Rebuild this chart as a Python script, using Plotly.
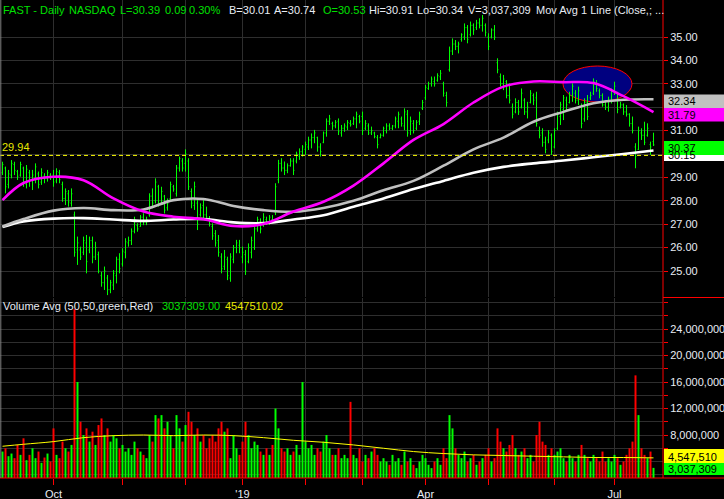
import pandas as pd
import plotly.graph_objects as go

# ---------------- data ----------------
holidays = ['2018-11-22', '2018-12-05', '2018-12-25', '2019-01-01', '2019-01-21',
            '2019-02-18', '2019-04-19', '2019-05-27', '2019-07-04']
dates = [d.strftime('%Y-%m-%d') for d in pd.bdate_range('2018-09-06', '2019-07-19')
         if d.strftime('%Y-%m-%d') not in holidays]

high = [29.67,29.46,29.32,29.74,29.67,29.32,29.67,29.46,29.53,29.32,29.32,29.60,29.25,29.39,29.18,29.32,29.18,
        29.32,29.39,29.32,28.82,28.53,28.46,28.53,27.54,
        26.47,26.04,26.47,26.54,26.47,26.47,26.25,25.83,24.97,25.19,24.83,24.62,25.04,25.61,25.76,25.97,26.40,26.47,26.82,27.32,27.04,27.39,27.47,27.32,28.32,28.53,28.96,28.68,28.60,28.25,28.10,
        28.82,28.68,29.53,29.89,29.82,30.20,29.82,28.53,28.82,28.03,27.89,28.10,27.75,27.35,27.04,26.75,26.54,25.76,25.90,25.61,25.76,26.11,26.33,26.33,
        26.04,25.90,26.18,26.47,26.89,27.32,27.25,27.47,27.32,27.39,27.39,28.75,29.75,29.82,29.68,29.60,29.82,29.82,30.10,30.24,30.38,30.53,30.74,30.88,31.03,30.74,30.46,30.96,31.52,31.67,31.38,
        31.45,31.52,31.24,31.31,31.45,31.45,31.60,31.81,31.67,31.81,31.45,31.31,31.17,30.95,30.81,30.88,31.17,31.31,31.31,31.24,31.60,31.81,31.60,31.95,31.88,31.60,31.45,31.45,31.81,32.31,32.95,33.09,33.31,33.31,33.45,33.59,33.09,32.66,
        34.59,34.94,34.87,34.80,35.16,35.58,35.51,35.66,35.58,35.73,35.80,35.94,35.58,35.16,35.37,35.51,34.09,
        33.44,33.38,33.16,33.02,32.16,32.38,32.31,32.80,32.38,32.23,32.73,32.59,32.66,31.17,31.10,30.74,31.02,30.88,31.10,31.81,32.23,32.52,32.45,32.66,33.02,32.73,32.88,32.16,32.38,32.52,32.66,33.23,33.16,32.80,32.59,32.31,32.45,32.80,33.09,32.66,32.23,32.16,32.09,31.74,31.60,30.46,31.17,31.10,31.38,31.31,30.53,30.91]

low = [29.10,28.32,28.53,28.96,29.10,28.89,29.03,28.60,28.53,28.60,28.46,28.75,28.53,28.68,28.75,28.82,28.89,
       28.60,28.75,28.75,27.96,27.82,27.75,27.75,25.61,
       25.26,25.47,25.68,24.90,25.76,25.33,25.47,24.90,24.33,24.19,23.97,24.05,24.19,24.47,24.90,25.19,25.54,26.04,26.11,26.61,26.68,26.89,26.96,26.96,27.32,27.68,27.89,27.75,27.82,27.46,27.58,
       28.03,28.39,28.18,29.25,29.25,29.25,28.46,27.68,27.61,26.75,27.32,27.25,27.18,26.90,26.33,26.04,25.61,24.90,25.04,24.61,24.54,25.33,25.76,25.76,
       25.33,24.83,25.33,25.54,25.90,26.68,26.61,26.89,26.97,26.97,27.04,27.39,28.75,29.25,29.10,29.18,29.46,29.10,29.60,29.75,29.89,29.96,30.17,30.24,30.46,30.10,29.89,30.46,30.74,31.24,31.03,
       31.10,30.81,30.74,30.95,31.02,31.17,31.24,31.10,31.31,30.81,31.02,30.81,30.81,30.67,30.24,30.67,30.74,30.88,31.02,31.02,31.10,31.10,31.17,31.02,30.74,30.81,30.88,31.02,31.24,31.88,32.31,32.74,32.88,32.88,33.09,33.16,32.45,32.02,
       33.52,34.23,34.44,34.30,34.80,34.87,34.73,35.02,35.09,35.30,35.37,35.23,35.02,34.44,34.94,34.87,33.45,
       32.88,32.73,32.38,32.16,31.52,31.74,31.67,31.95,31.67,31.52,32.16,32.09,31.17,30.67,30.31,30.03,30.46,29.96,30.24,31.02,31.24,31.45,31.88,32.16,32.23,32.16,32.09,31.10,31.38,31.45,32.31,32.52,32.66,32.38,32.02,31.88,31.81,32.16,32.52,31.74,31.95,31.67,31.60,31.17,30.88,29.39,30.17,30.60,30.38,30.74,29.96,30.34]

opens = [29.20,29.40,28.70,29.10,29.55,29.25,29.10,29.40,28.70,29.20,28.90,29.00,29.15,28.80,29.05,28.95,29.10,
         29.10,28.85,29.20,28.70,28.10,28.30,27.90,27.40,
         25.90,25.90,25.80,26.20,25.90,26.30,25.60,25.70,24.80,24.50,24.70,24.20,24.40,24.80,25.50,25.30,25.80,26.20,26.30,26.70,26.95,26.90,27.30,27.10,27.40,28.20,28.00,28.60,27.90,28.20,27.70,
         28.10,28.60,28.30,29.40,29.70,29.60,29.70,28.40,27.80,27.90,27.40,27.80,27.40,27.25,26.90,26.60,26.30,25.60,25.20,25.50,24.70,25.50,26.00,26.10,
         25.60,25.70,25.40,25.80,26.00,26.80,27.10,26.95,27.20,27.05,27.20,27.50,28.90,29.60,29.40,29.30,29.50,29.70,29.70,29.90,30.10,30.20,30.30,30.60,30.70,30.70,30.30,30.50,30.90,31.40,31.30,
         31.20,31.40,30.90,31.10,31.15,31.30,31.30,31.50,31.60,31.60,31.10,31.20,30.90,30.90,30.70,30.70,30.80,31.00,31.20,31.10,31.20,31.40,31.50,31.20,31.70,31.00,31.30,31.10,31.40,31.95,32.40,32.80,33.00,33.10,33.15,33.30,33.00,32.50,
         33.60,34.40,34.70,34.60,34.90,35.00,35.40,35.10,35.50,35.40,35.60,35.50,35.50,35.00,35.00,35.30,33.90,
         33.30,33.00,33.10,32.50,32.00,31.80,32.20,32.00,32.30,31.80,32.20,32.50,32.40,31.00,30.90,30.50,30.60,30.80,30.30,31.10,31.60,31.90,32.30,32.20,32.50,32.60,32.30,32.00,31.50,32.20,32.40,32.60,33.00,32.70,32.50,32.10,32.00,32.30,32.70,32.60,32.00,32.10,31.80,31.70,31.30,30.30,30.20,30.90,30.80,30.80,30.40,30.53]

closes = [29.55,28.60,29.15,29.60,29.30,29.05,29.55,28.80,29.35,28.85,29.10,29.45,28.70,29.20,28.95,29.20,29.00,
          28.80,29.25,28.90,28.10,28.40,27.95,28.30,25.80,
          26.20,25.60,26.30,25.40,26.30,25.60,26.00,25.00,24.50,25.00,24.20,24.50,24.90,25.50,25.10,25.85,26.25,26.30,26.70,27.20,26.80,27.30,27.10,27.20,28.20,27.90,28.80,27.90,28.40,27.60,27.90,
          28.70,28.50,29.40,29.80,29.40,30.00,28.60,27.90,28.60,27.00,27.70,27.40,27.30,27.00,26.50,26.20,25.80,25.10,25.60,24.80,25.60,26.00,26.20,26.00,
          25.80,25.00,26.00,26.30,26.80,27.20,26.80,27.30,27.10,27.30,27.15,28.60,29.60,29.40,29.30,29.50,29.70,29.30,30.00,30.10,30.30,30.40,30.60,30.70,30.90,30.30,30.10,30.90,31.40,31.50,31.20,
          31.35,30.95,31.10,31.20,31.35,31.25,31.50,31.70,31.40,31.00,31.30,30.90,31.00,30.75,30.40,30.80,31.10,31.20,31.10,31.20,31.50,31.70,31.30,31.80,30.90,31.40,31.00,31.35,31.70,32.20,32.85,33.00,33.20,33.00,33.35,33.45,32.60,32.20,
          34.40,34.70,34.60,34.70,35.10,35.40,34.90,35.50,35.30,35.60,35.50,35.80,35.20,34.60,35.30,35.00,33.60,
          33.00,33.20,32.50,32.30,31.70,32.20,31.80,32.60,31.80,32.00,32.60,32.30,31.30,30.80,30.50,30.20,30.90,30.10,31.00,31.70,32.10,32.40,32.10,32.50,32.90,32.30,32.70,31.30,32.20,31.60,32.50,33.10,32.80,32.50,32.10,32.00,32.30,32.70,32.90,31.90,32.10,31.80,31.70,31.30,31.00,29.90,31.00,30.80,30.50,31.10,30.30,30.39]

volume_m = [5.5,6.0,4.8,5.2,4.5,6.5,5.0,7.5,4.2,5.0,6.0,4.5,5.5,3.8,4.6,5.2,4.0,
            9.0,5.0,4.5,7.0,6.0,5.5,6.5,27.0,
            16.0,10.0,8.0,9.0,7.0,8.5,6.5,9.5,10.5,8.0,9.0,7.0,8.0,7.5,6.0,6.5,5.5,6.0,5.0,7.0,6.0,5.5,5.0,4.5,8.0,7.0,11.0,10.5,11.0,9.0,10.0,
            8.0,6.0,11.0,9.0,7.0,9.5,11.5,10.0,8.0,9.0,7.0,8.0,6.0,7.5,8.0,7.0,9.0,10.0,8.5,9.0,4.5,8.0,6.0,5.0,
            7.0,10.0,8.0,6.0,7.0,6.5,5.5,5.0,6.0,5.0,6.5,12.0,9.0,6.0,5.5,6.0,5.0,5.5,6.5,5.0,16.0,7.0,6.0,6.5,5.0,6.0,5.5,7.0,8.0,6.0,5.0,
            5.0,6.0,4.5,5.0,4.5,13.0,5.0,4.5,6.0,4.0,5.0,4.5,5.5,6.0,5.0,4.0,4.5,4.0,3.5,5.0,4.0,4.5,3.5,5.5,4.0,4.5,3.5,3.0,4.0,5.0,4.5,3.5,3.0,4.0,4.5,3.5,6.0,4.5,
            11.0,9.0,6.0,5.0,4.5,5.5,4.0,4.5,5.0,3.5,4.0,4.5,5.0,6.0,4.0,4.5,9.0,
            7.0,6.0,5.5,6.5,8.0,6.0,5.0,5.5,6.0,4.5,5.0,4.0,8.0,10.0,7.0,6.5,5.0,6.0,5.0,5.5,6.0,4.5,4.0,5.0,4.5,4.0,5.0,6.5,5.0,4.5,4.0,5.0,4.5,4.0,5.5,4.0,4.5,4.0,5.0,4.5,3.5,4.0,5.0,6.0,7.0,17.0,11.0,6.0,5.0,4.5,5.5,3.037309]

ma_dates = ['2018-09-06','2018-09-17','2018-10-01','2018-10-15','2018-10-29','2018-11-12','2018-11-27',
            '2018-12-12','2018-12-27','2019-01-11','2019-01-28','2019-02-11','2019-02-26','2019-03-12',
            '2019-03-26','2019-04-09','2019-04-24','2019-05-08','2019-05-22','2019-06-06','2019-06-20',
            '2019-07-05','2019-07-19']
ma_magenta = [28.03,28.76,29.03,28.88,28.10,27.54,27.32,27.21,26.92,27.01,27.54,27.96,28.65,29.60,30.60,31.28,32.20,32.88,33.10,33.07,33.03,32.47,31.79]
ma_gray = [26.90,27.22,27.58,27.69,27.60,27.63,28.03,28.08,27.78,27.60,27.53,27.69,28.00,28.45,28.85,29.50,30.20,30.70,31.38,31.80,32.17,32.32,32.34]
ma_white = [26.88,27.12,27.24,27.26,27.20,27.14,27.20,27.22,27.08,27.05,27.20,27.38,27.75,28.10,28.50,28.85,29.20,29.45,29.60,29.72,29.86,30.00,30.15]
vol_avg_m = [6.3,6.6,7.0,7.6,7.9,8.0,7.9,8.0,7.9,7.6,7.2,6.9,6.5,6.0,5.5,5.2,5.0,4.9,4.8,4.7,4.6,4.6,4.547510]

support_level = 29.94
price_ticks = [25, 26, 27, 28, 29, 30, 31, 32, 33, 34, 35]
volume_ticks = [8e6, 12e6, 16e6, 20e6, 24e6]
month_ticks = ['2018-10-01','2018-11-01','2018-12-03','2019-01-02','2019-02-01','2019-03-01',
               '2019-04-01','2019-05-01','2019-06-03','2019-07-01']
month_labels = ['Oct', '', '', "'19", '', '', 'Apr', '', '', 'Jul']

# ---------------- layout helpers ----------------
PW, PH = 663.0, 478.0
def fx(x):
    return x / PW
def fy(y):
    return (PH - y) / PH

FONT = "Arial, 'Liberation Sans', sans-serif"
GREEN_T = '#00e000'
WHITE_T = '#e8ecf4'
GRID = '#2e2e2e'

volume = [v * 1e6 for v in volume_m]
vol_avg = [v * 1e6 for v in vol_avg_m]
vol_colors = ['#00ff00' if i == 0 or closes[i] >= closes[i - 1] else '#ff0000' for i in range(len(closes))]

fig = go.Figure()

fig.add_trace(go.Bar(x=dates, y=volume, marker=dict(color=vol_colors, line=dict(width=0)),
                     xaxis='x', yaxis='y2', hoverinfo='skip'))
fig.add_trace(go.Scatter(x=ma_dates, y=vol_avg, mode='lines', line=dict(color='#ffff00', width=1, shape='spline'),
                         xaxis='x', yaxis='y2', hoverinfo='skip'))

fig.add_trace(go.Scatter(x=ma_dates, y=ma_white, mode='lines', line=dict(color='#ffffff', width=2.6, shape='spline'),
                         xaxis='x', yaxis='y', hoverinfo='skip'))
fig.add_trace(go.Scatter(x=ma_dates, y=ma_gray, mode='lines', line=dict(color='#c0c0c0', width=2.6, shape='spline'),
                         xaxis='x', yaxis='y', hoverinfo='skip'))
fig.add_trace(go.Scatter(x=ma_dates, y=ma_magenta, mode='lines', line=dict(color='#ff00ff', width=2.6, shape='spline'),
                         xaxis='x', yaxis='y', hoverinfo='skip'))
fig.add_trace(go.Ohlc(x=dates, open=opens, high=high, low=low, close=closes,
                      increasing=dict(line=dict(color='#00ff00', width=1)),
                      decreasing=dict(line=dict(color='#00ff00', width=1)),
                      tickwidth=0.3, xaxis='x', yaxis='y', hoverinfo='skip'))

x_lo = -2.5 / 3.0
x_hi = x_lo + PW / 3.0

fig.update_layout(
    width=724, height=499,
    margin=dict(l=0, r=61, t=0, b=21, autoexpand=False),
    paper_bgcolor='#000000', plot_bgcolor='#000000',
    showlegend=False, bargap=0.34, hovermode=False,
    font=dict(family=FONT, size=11, color=WHITE_T),
    xaxis=dict(type='category', range=[x_lo, x_hi], anchor='y2', domain=[0, 1],
               tickmode='array', tickvals=month_ticks, ticktext=month_labels,
               ticks='outside', ticklen=6, tickcolor='#ff0000', tickwidth=1,
               showgrid=True, gridcolor=GRID, gridwidth=1,
               showline=False, zeroline=False, rangeslider=dict(visible=False),
               tickfont=dict(size=11, color=WHITE_T, family=FONT)),
    yaxis=dict(domain=[fy(297), 1], range=[23.889, 36.581], side='right', anchor='x',
               tickmode='array', tickvals=price_ticks, tickformat='.2f',
               ticks='outside', ticklen=4, tickcolor='#ff0000',
               showgrid=True, gridcolor=GRID, zeroline=False, showline=False,
               tickfont=dict(size=11, color=WHITE_T, family=FONT)),
    yaxis2=dict(domain=[0, fy(298)], range=[1.509e6, 28.679e6], side='right', anchor='x',
                tickmode='array', tickvals=volume_ticks, tickformat=',d',
                ticks='outside', ticklen=4, tickcolor='#ff0000',
                minor=dict(tickmode='linear', tick0=0, dtick=2e6, ticks='outside', ticklen=4,
                           tickcolor='#ff0000', showgrid=True, gridcolor=GRID),
                showgrid=True, gridcolor=GRID, zeroline=False, showline=False,
                tickfont=dict(size=11, color=WHITE_T, family=FONT)),
)

shapes = []
shapes.append(dict(type='circle', xref='x', yref='y', x0=(563 - 2.5) / 3, x1=(632 - 2.5) / 3,
                   y0=32.22, y1=33.76, fillcolor='#000080', line=dict(color='#ff0000', width=1),
                   layer='between'))
shapes.append(dict(type='line', xref='paper', yref='y', x0=0, x1=1, y0=support_level, y1=support_level,
                   line=dict(color='#ffff00', width=1, dash='4px,3px'), layer='above'))
shapes.append(dict(type='line', xref='paper', yref='paper', x0=1, x1=1, y0=0, y1=1,
                   line=dict(color='#ff0000', width=1)))
shapes.append(dict(type='line', xref='paper', yref='paper', x0=0, x1=724 / PW, y0=0, y1=0,
                   line=dict(color='#ff0000', width=1)))
shapes.append(dict(type='line', xref='paper', yref='paper', x0=1, x1=724 / PW, y0=fy(297.5), y1=fy(297.5),
                   line=dict(color='#ff0000', width=1)))
shapes.append(dict(type='line', xref='paper', yref='paper', x0=fx(0.8), x1=fx(0.8), y0=0, y1=1,
                   line=dict(color='#808080', width=1)))

annotations = []
boxes = [
    (94.5, 108, '#c0c0c0', '32.34', 101),
    (108, 121.5, '#ff00ff', '31.79', 115),
    (147.5, 161, '#ffffff', '30.15', 155),
    (141, 155, '#00ff00', '30.37', 148),
    (449, 463, '#ffff00', '4,547,510', 457),
    (463, 475, '#00ff00', '3,037,309', 469),
]
for top, bot, fill, txt, ty in boxes:
    shapes.append(dict(type='rect', xref='paper', yref='paper', x0=fx(664), x1=fx(724),
                       y0=fy(bot), y1=fy(top), fillcolor=fill, line=dict(width=0), layer='above'))
    annotations.append(dict(xref='paper', yref='paper', x=fx(667), y=fy(ty), text=txt, showarrow=False,
                            xanchor='left', yanchor='middle', borderpad=0,
                            font=dict(size=11, color='#000000', family=FONT)))

header = [
    (2, 'FAST - Daily', GREEN_T), (68, 'NASDAQ', GREEN_T), (119, 'L=30.39', GREEN_T),
    (164, '0.09', GREEN_T), (188, '0.30%', GREEN_T), (228, 'B=30.01', WHITE_T),
    (273, 'A=30.74', WHITE_T), (322, 'O=30.53', GREEN_T), (368, 'Hi=30.91', WHITE_T),
    (416, 'Lo=30.34', WHITE_T), (467, 'V=3,037,309', WHITE_T),
    (535, 'Mov Avg 1 Line (Close,; ...', WHITE_T),
]
for x, txt, col in header:
    annotations.append(dict(xref='paper', yref='paper', x=fx(x), y=fy(9.5), text=txt, showarrow=False,
                            xanchor='left', yanchor='middle', borderpad=0,
                            font=dict(size=11, color=col, family=FONT)))

vol_header = [(2, 'Volume Avg (50,50,green,Red)', WHITE_T), (161, '3037309.00', GREEN_T),
              (224, '4547510.02', '#e8e800')]
for x, txt, col in vol_header:
    annotations.append(dict(xref='paper', yref='paper', x=fx(x), y=fy(306), text=txt, showarrow=False,
                            xanchor='left', yanchor='middle', borderpad=0,
                            font=dict(size=11, color=col, family=FONT)))

annotations.append(dict(xref='paper', yref='y', x=fx(1), y=support_level, text='29.94', showarrow=False,
                        xanchor='left', yanchor='bottom', borderpad=0, yshift=1,
                        font=dict(size=11, color='#e8e800', family=FONT)))

fig.update_layout(shapes=shapes, annotations=annotations)
fig.write_html('out.html', config={'displayModeBar': False, 'staticPlot': True},
               post_script="document.body.style.margin='0';document.body.style.padding='0';")
